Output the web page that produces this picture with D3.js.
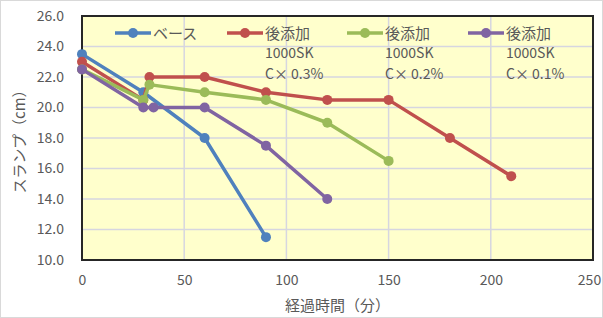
<!DOCTYPE html>
<html><head><meta charset="utf-8">
<script src="https://cdn.jsdelivr.net/npm/d3@7"></script>
<style>
body{margin:0;background:#fff;}
svg text{font-family:"Noto Sans CJK JP","Noto Sans",sans-serif;fill:#595959;}
</style></head>
<body><svg id="c" width="603" height="318"></svg>
<script>
const xTicks = [0,50,100,150,200,250];
const yTicks = [10,12,14,16,18,20,22,24,26];
const seriesNames = ["ベース","後添加","後添加","後添加"];
const seriesSub = [null,["1000SK","C× 0.3%"],["1000SK","C× 0.2%"],["1000SK","C× 0.1%"]];
const seriesColors = ["#4F81BD","#C0504D","#9BBB59","#8064A2"];
const baseX = [0,30,60,90];
const baseY = [23.5,21,18,11.5];
const c03X = [0,30,33,60,90,120,150,180,210];
const c03Y = [23,20.5,22,22,21,20.5,20.5,18,15.5];
const c02X = [0,30,33,60,90,120,150];
const c02Y = [22.5,20.5,21.5,21,20.5,19,16.5];
const c01X = [0,30,35,60,90,120];
const c01Y = [22.5,20,20,20,17.5,14];
const xTitle = "経過時間（分）";
const yTitle = "スランプ（cm）";

const series = [[baseX,baseY],[c03X,c03Y],[c02X,c02Y],[c01X,c01Y]].map((s,i)=>({
  name:seriesNames[i], sub:seriesSub[i], color:seriesColors[i],
  pts:s[0].map((x,j)=>({x, y:s[1][j]}))
}));

const svg = d3.select("#c");
const L=82,R=593,T=16,B=260;
const x = d3.scaleLinear().domain([0,250]).range([L,R]);
const y = d3.scaleLinear().domain([10,26]).range([B,T]);

svg.append("rect").attr("x",0.5).attr("y",0.5).attr("width",602).attr("height",317)
  .attr("fill","#fff").attr("stroke","#D9D9D9");
svg.append("rect").attr("x",L).attr("y",T).attr("width",R-L).attr("height",B-T).attr("fill","#FFFFCC");

// grid
svg.append("g").selectAll("line").data(yTicks).join("line")
  .attr("x1",L).attr("x2",R).attr("y1",d=>y(d)).attr("y2",d=>y(d))
  .attr("stroke","#D6D6E0").attr("stroke-width",1.5);
svg.append("g").selectAll("line").data(xTicks).join("line")
  .attr("y1",T).attr("y2",B).attr("x1",d=>x(d)).attr("x2",d=>x(d))
  .attr("stroke","#D6D6E0").attr("stroke-width",1.5);

// axes
const ya = svg.append("g").attr("transform",`translate(${L},0)`)
  .call(d3.axisLeft(y).tickValues(yTicks).tickFormat(d3.format(".1f")).tickSize(0).tickPadding(18));
ya.select(".domain").remove();
ya.selectAll("text").attr("font-size",14).style("fill","#595959");
const xa = svg.append("g").attr("transform",`translate(0,${B})`)
  .call(d3.axisBottom(x).tickValues(xTicks).tickSize(0).tickPadding(15));
xa.select(".domain").remove();
xa.selectAll("text").attr("font-size",14).style("fill","#595959")
  .attr("dx",d=>d===250?-4:0);

svg.append("rect").attr("x",L).attr("y",T).attr("width",R-L).attr("height",B-T)
  .attr("fill","none").attr("stroke","#262626").attr("stroke-width",2);

// lines
const line = d3.line().x(d=>x(d.x)).y(d=>y(d.y));
series.forEach(s=>{
  const g = svg.append("g");
  g.append("path").attr("d",line(s.pts)).attr("fill","none").attr("stroke",s.color)
    .attr("stroke-width",3.5).attr("stroke-linejoin","round");
  g.selectAll("circle").data(s.pts).join("circle")
    .attr("cx",d=>x(d.x)).attr("cy",d=>y(d.y)).attr("r",5).attr("fill",s.color);
});

// legend
const legX = [115,227,347,468];
series.forEach((s,i)=>{
  const g = svg.append("g").attr("transform",`translate(${legX[i]},33)`);
  g.append("line").attr("x1",0).attr("x2",36).attr("stroke",s.color).attr("stroke-width",3.5);
  g.append("circle").attr("cx",18).attr("r",5).attr("fill",s.color);
  g.append("text").attr("x",38).attr("y",5.5).attr("font-size",15).text(s.name);
  if(s.sub){
    s.sub.forEach((t,k)=>g.append("text").attr("x",38).attr("y",25+k*21).attr("font-size",14).text(t));
  }
});

svg.append("text").attr("x",(L+R)/2).attr("y",311).attr("text-anchor","middle").attr("font-size",15).text(xTitle);
svg.append("text").attr("transform",`translate(25,${(T+B)/2}) rotate(-90)`).attr("text-anchor","middle").attr("font-size",15).text(yTitle);
</script></body></html>
